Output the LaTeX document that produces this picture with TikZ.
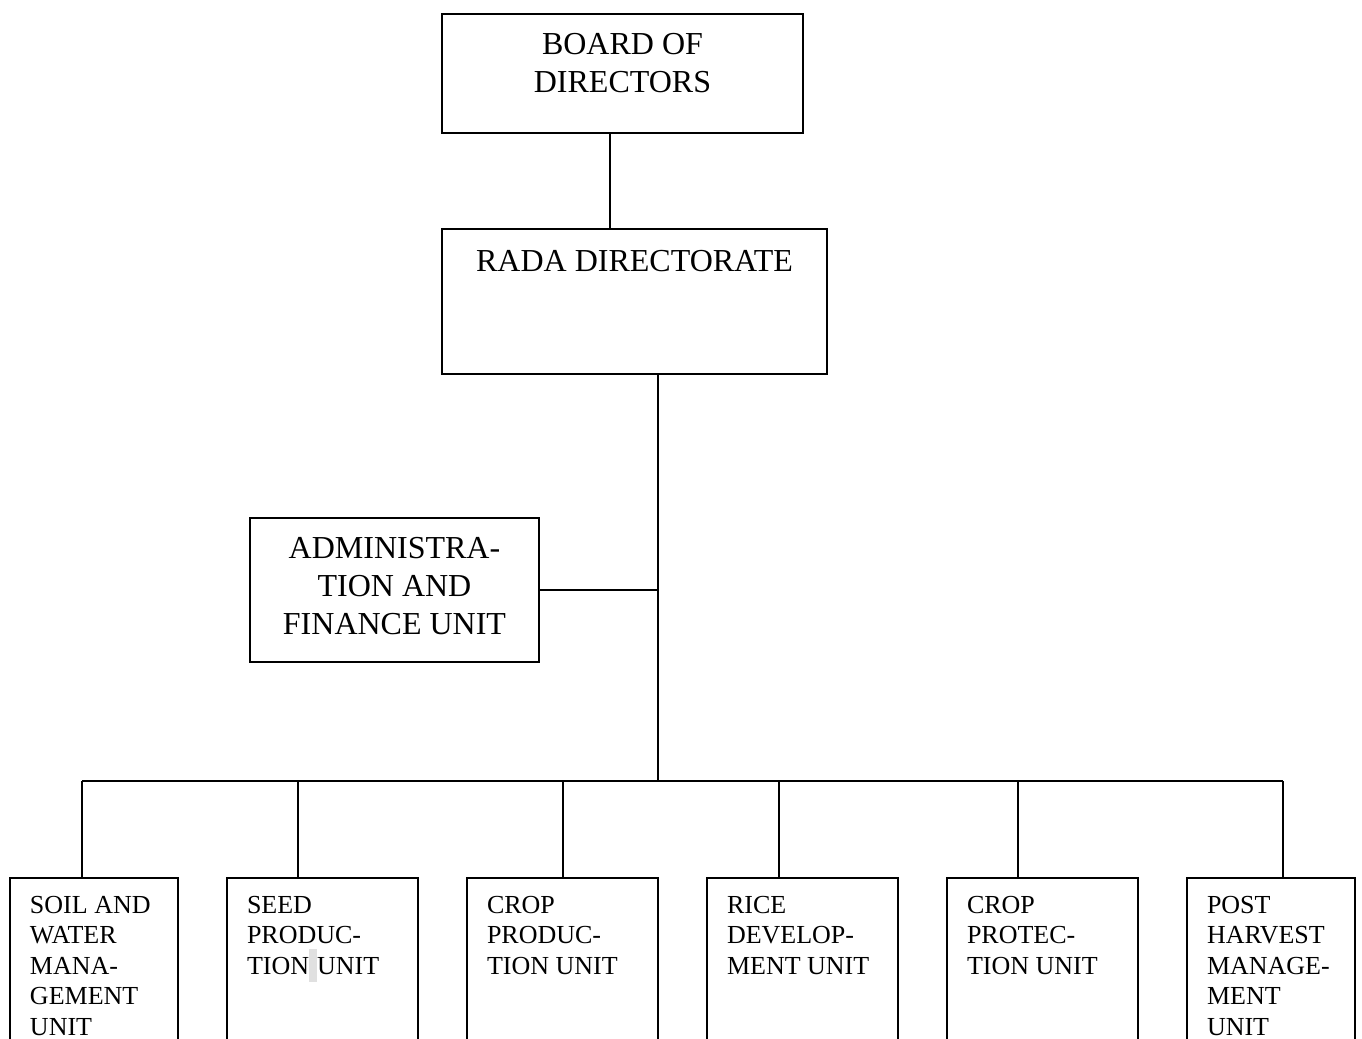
\documentclass[tikz,border=0pt]{standalone}
\usepackage{fontspec}
\setmainfont{Liberation Serif}
\usetikzlibrary{positioning}

% box contents: width, height, first baseline, text
\newcommand{\headtext}[4]{\parbox[t][#2][t]{#1}{\centering\fontsize{16}{19}\selectfont\rule{0pt}{#3}#4}}
\newcommand{\unittext}[2]{\parbox[t][95pt][t]{#1}{\raggedright\fontsize{13}{15.25}\selectfont\rule{0pt}{17.5pt}#2}}

\begin{document}
\begin{tikzpicture}[x=1pt, y=1pt, line width=1pt,
    headbox/.style={draw, inner sep=0pt, outer sep=0pt, anchor=north},
    unitbox/.style={draw, inner xsep=10pt, inner ysep=0pt, outer sep=0pt}]
    \useasboundingbox (0,0) rectangle (681,-519.5);
    \clip (0,0) rectangle (681,-519.5);

    \node[headbox] (board) at (311.25,-7) {\headtext{180.5pt}{59.5pt}{20pt}{BOARD OF\\DIRECTORS}};
    \node[headbox, below=48pt of board, xshift=6pt] (rada) {\headtext{192.5pt}{72.5pt}{21pt}{RADA DIRECTORATE}};
    \node[headbox, below=72pt of rada, xshift=-120pt] (admin) {\headtext{144.5pt}{72pt}{20pt}{ADMINISTRA-\\TION AND\\FINANCE UNIT}};

    % units
    \node[unitbox, anchor=north west] (soil) at (5,-439) {\unittext{64pt}{SOIL AND\\WATER\\MANA-\\GEMENT\\UNIT}};
    \node[unitbox, right=24.5pt of soil] (seed) {\unittext{75.5pt}{SEED\\PRODUC-\\TION{\color{black!12}\rule[-4pt]{4pt}{16.5pt}}UNIT}};
    \node[unitbox, right=24.5pt of seed] (cprod) {\unittext{75.5pt}{CROP\\PRODUC-\\TION UNIT}};
    \node[unitbox, right=24.5pt of cprod] (rice) {\unittext{75.5pt}{RICE\\DEVELOP-\\MENT UNIT}};
    \node[unitbox, right=24.5pt of rice] (cprot) {\unittext{75.5pt}{CROP\\PROTEC-\\TION UNIT}};
    \node[unitbox, right=24.5pt of cprot] (post) {\unittext{64pt}{POST\\HARVEST\\MANAGE-\\MENT\\UNIT}};

    \coordinate (bus) at (329,-390.5);

    \draw (board.south) ++(-6.25,0) coordinate (b1) -- (b1 |- rada.north);
    \draw (rada.south) ++(11.75,0) -- (bus);
    \draw (admin.east) -- (admin.east -| bus);
    \foreach \unit/\dx in {soil/-6, seed/-12.25, cprod/0, rice/-11.75, cprot/-12.25, post/6}
        \draw (\unit.north) ++(\dx,0) coordinate (drop-\unit) -- (drop-\unit |- bus);
    \draw (bus -| drop-soil) -- (bus -| drop-post);
\end{tikzpicture}
\end{document}
